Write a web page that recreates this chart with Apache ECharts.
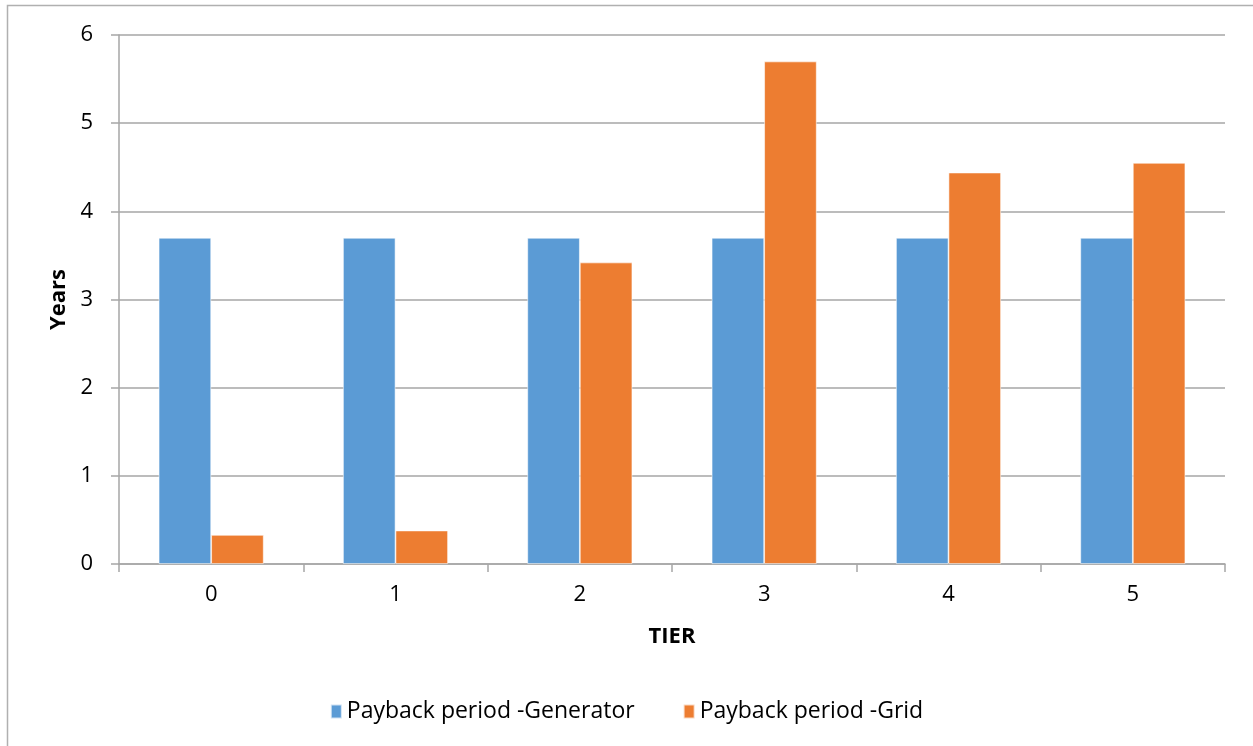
<!DOCTYPE html>
<html>
<head>
<meta charset="utf-8">
<script src="https://cdn.jsdelivr.net/npm/echarts@6/dist/echarts.min.js"></script>
<style>
  html, body { margin: 0; padding: 0; background: #fff; }
  #chart { width: 1253px; height: 746px; }
</style>
</head>
<body>
<div id="chart"></div>
<script>
// Payback period by tier
const tiers = ['0', '1', '2', '3', '4', '5'];
const generatorYears = [3.7, 3.7, 3.7, 3.7, 3.7, 3.7];
const gridYears = [0.33, 0.38, 3.42, 5.7, 4.44, 4.55];
const yTicks = { min: 0, max: 6, interval: 1 };

const FONT = '"Open Sans", sans-serif';
const AXIS_GREY = '#a6a6a6';

const chart = echarts.init(document.getElementById('chart'));
chart.setOption({
  animation: false,
  backgroundColor: '#fff',
  graphic: [{
    type: 'rect',
    shape: { x: 7.5, y: 5.5, width: 1260, height: 760 },
    style: { fill: 'none', stroke: '#b0b0b0', lineWidth: 1.5 },
    silent: true
  }],
  grid: { left: 119, right: 28, top: 35, bottom: 182 },
  legend: {
    bottom: 18,
    left: 'center',
    itemWidth: 11,
    itemHeight: 14,
    itemGap: 48,
    icon: 'rect',
    textStyle: { fontFamily: FONT, fontSize: 23, color: '#000' },
    data: ['Payback period -Generator', 'Payback period -Grid']
  },
  xAxis: {
    type: 'category',
    data: tiers,
    name: 'TIER',
    nameLocation: 'middle',
    nameGap: 62,
    nameTextStyle: { fontFamily: FONT, fontSize: 22, fontWeight: 'bold', color: '#000' },
    axisLine: { lineStyle: { color: AXIS_GREY, width: 1.5 } },
    axisTick: { show: true, length: 8, lineStyle: { color: AXIS_GREY, width: 1.5 } },
    axisLabel: { fontFamily: FONT, fontSize: 22, color: '#000', margin: 20 }
  },
  yAxis: {
    type: 'value',
    min: yTicks.min,
    max: yTicks.max,
    interval: yTicks.interval,
    name: 'Years',
    nameLocation: 'middle',
    nameGap: 48,
    nameRotate: 90,
    nameTextStyle: { fontFamily: FONT, fontSize: 22, fontWeight: 'bold', color: '#000' },
    axisLine: { show: true, lineStyle: { color: AXIS_GREY, width: 1.5 } },
    axisTick: { show: true, length: 8, lineStyle: { color: AXIS_GREY, width: 1.5 } },
    axisLabel: { fontFamily: FONT, fontSize: 22, color: '#000', margin: 26 },
    splitLine: { lineStyle: { color: AXIS_GREY, width: 1.5 } }
  },
  series: [
    {
      name: 'Payback period -Generator',
      type: 'bar',
      data: generatorYears,
      barGap: '0%',
      barCategoryGap: '43%',
      itemStyle: { color: '#5b9bd5', borderColor: 'rgba(255,255,255,0.7)', borderWidth: 0.8 }
    },
    {
      name: 'Payback period -Grid',
      type: 'bar',
      data: gridYears,
      barGap: '0%',
      barCategoryGap: '43%',
      itemStyle: { color: '#ed7d31', borderColor: 'rgba(255,255,255,0.7)', borderWidth: 0.8 }
    }
  ]
});
</script>
</body>
</html>
